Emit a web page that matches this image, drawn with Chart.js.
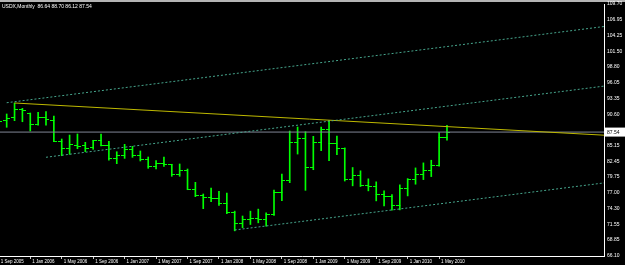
<!DOCTYPE html>
<html>
<head>
<meta charset="utf-8">
<script src="https://cdn.jsdelivr.net/npm/chart.js@4.4.0/dist/chart.umd.min.js"></script>
<style>
  html, body { margin: 0; padding: 0; background: #000; }
  canvas { display: block; }
</style>
</head>
<body>
<canvas id="usdxChart" width="625" height="265"></canvas>
<script>
const symbol = "USDX,Monthly";

const months = [
  "Sep 2005", "Oct 2005", "Nov 2005", "Dec 2005",
  "Jan 2006", "Feb 2006", "Mar 2006", "Apr 2006", "May 2006", "Jun 2006",
  "Jul 2006", "Aug 2006", "Sep 2006", "Oct 2006", "Nov 2006", "Dec 2006",
  "Jan 2007", "Feb 2007", "Mar 2007", "Apr 2007", "May 2007", "Jun 2007",
  "Jul 2007", "Aug 2007", "Sep 2007", "Oct 2007", "Nov 2007", "Dec 2007",
  "Jan 2008", "Feb 2008", "Mar 2008", "Apr 2008", "May 2008", "Jun 2008",
  "Jul 2008", "Aug 2008", "Sep 2008", "Oct 2008", "Nov 2008", "Dec 2008",
  "Jan 2009", "Feb 2009", "Mar 2009", "Apr 2009", "May 2009", "Jun 2009",
  "Jul 2009", "Aug 2009", "Sep 2009", "Oct 2009", "Nov 2009", "Dec 2009",
  "Jan 2010", "Feb 2010", "Mar 2010", "Apr 2010", "May 2010", "Jun 2010"
];

const opens = [
  87.10, 89.60, 90.10, 91.48,
  90.72, 88.77, 90.03, 89.58, 85.87, 84.73,
  85.30, 85.18, 84.84, 86.05, 85.30, 82.99,
  83.51, 84.56, 83.45, 82.88, 81.50, 82.19,
  81.85, 80.17, 80.81, 77.64, 76.53, 76.19,
  76.08, 75.22, 73.66, 71.73, 72.48, 72.65,
  72.33, 73.24, 77.17, 79.08, 85.77, 86.40,
  81.41, 85.77, 87.95, 85.48, 84.73, 79.30,
  80.10, 78.36, 78.19, 76.68, 76.33, 74.77,
  77.76, 79.38, 80.25, 80.82, 81.73, 86.64
];
const highs = [
  89.60, 90.67, 92.57, 91.65,
  90.84, 90.96, 91.07, 90.32, 86.34, 87.03,
  87.21, 85.77, 86.12, 87.21, 85.94, 84.14,
  85.42, 85.08, 84.27, 83.23, 82.59, 83.23,
  81.97, 82.02, 81.15, 78.85, 76.83, 77.87,
  77.29, 77.00, 73.86, 73.02, 73.86, 74.21,
  73.57, 77.52, 80.29, 87.72, 88.41, 87.60,
  86.81, 88.41, 89.57, 86.85, 84.80, 81.41,
  80.84, 79.45, 78.93, 77.36, 76.72, 78.41,
  79.49, 81.34, 82.21, 82.67, 87.45, 88.70
];
const lows = [
  86.80, 88.37, 89.51, 89.33,
  87.73, 88.72, 88.72, 85.87, 83.45, 83.69,
  84.66, 84.15, 84.56, 85.14, 82.66, 82.07,
  82.99, 83.17, 82.54, 81.27, 81.15, 81.62,
  79.89, 79.89, 77.57, 76.36, 74.29, 75.49,
  74.87, 73.42, 70.45, 70.99, 71.55, 71.84,
  71.27, 73.14, 75.67, 78.79, 83.74, 77.46,
  81.03, 84.32, 82.59, 83.62, 79.07, 78.24,
  78.12, 77.37, 75.64, 74.77, 74.02, 74.08,
  76.50, 78.52, 79.32, 79.84, 81.63, 86.12
];
const closes = [
  89.37, 89.92, 91.48, 91.31,
  88.89, 90.03, 89.68, 85.94, 84.73, 85.40,
  85.10, 84.78, 86.00, 85.30, 82.99, 83.51,
  84.56, 83.45, 82.88, 81.50, 82.19, 81.85,
  80.17, 80.81, 77.64, 76.53, 76.19, 76.01,
  75.22, 73.66, 71.73, 72.48, 72.65, 72.33,
  73.24, 77.17, 79.08, 85.77, 86.40, 81.41,
  85.77, 87.95, 85.48, 84.73, 79.30, 80.10,
  78.36, 78.19, 76.68, 76.33, 74.77, 77.76,
  79.38, 80.25, 80.82, 81.73, 86.58, 87.54
];

const xTickLabels = [
  "1 Sep 2005", "1 Jan 2006", "1 May 2006", "1 Sep 2006", "1 Jan 2007",
  "1 May 2007", "1 Sep 2007", "1 Jan 2008", "1 May 2008", "1 Sep 2008",
  "1 Jan 2009", "1 May 2009", "1 Sep 2009", "1 Jan 2010", "1 May 2010"
];
const yTicks = [
  109.70, 106.95, 104.25, 101.50, 98.80, 96.05, 93.35, 90.60,
  85.15, 82.45, 79.75, 77.00, 74.30, 71.55, 68.85, 66.10
];

// trend lines: [month index, price] at each end
const resistanceLine = [[2, 92.57], [77, 87.00]];
const channelTop = [[1, 92.62], [77, 105.81]];
const channelMid = [[6, 83.18], [77, 95.50]];
const channelLow = [[30, 70.60], [77, 78.75]];

const lastPrice = closes[closes.length - 1];

const barColor = "#00ff00";
const fontFamily = "'Liberation Sans', Arial, sans-serif";

function tickImage(side) {
  const c = document.createElement("canvas");
  c.width = 7;
  c.height = 1;
  const g = c.getContext("2d");
  g.fillStyle = barColor;
  g.fillRect(side === "left" ? 0 : 3, 0, 4, 1);
  return c;
}

function lineSet(points, color, dash) {
  return {
    type: "line",
    data: points.map(p => ({ x: p[0], y: p[1] })),
    borderColor: color,
    borderWidth: 1,
    borderDash: dash || [],
    pointRadius: 0,
    fill: false,
    order: 0
  };
}

const overlay = {
  id: "overlay",
  beforeDraw(chart) {
    const { ctx, width, height } = chart;
    ctx.save();
    ctx.fillStyle = "#000";
    ctx.fillRect(0, 0, width, height);
    ctx.fillStyle = "#b4b4b4";
    ctx.fillRect(0, 0, width, 2);
    ctx.restore();
  },
  afterDraw(chart) {
    const { ctx, chartArea, width } = chart;
    const n = closes.length - 1;
    const y = chart.scales.y.getPixelForValue(lastPrice);
    ctx.save();
    ctx.font = "5px " + fontFamily;
    ctx.textBaseline = "middle";
    ctx.fillStyle = "#fff";
    const head = [opens[n], highs[n], lows[n], closes[n]].map(v => v.toFixed(2)).join(" ");
    ctx.fillText(symbol + "  " + head, chartArea.left + 2, chartArea.top + 2.5);
    ctx.fillRect(chartArea.right + 1, y - 4.5, width - chartArea.right - 1, 9);
    ctx.fillStyle = "#000";
    ctx.fillText(lastPrice.toFixed(2), chartArea.right + 3, y + 0.5);
    ctx.restore();
  }
};

const ctx = document.getElementById("usdxChart").getContext("2d");
const chart = new Chart(ctx, {
  type: "bar",
  data: {
    datasets: [
      lineSet(channelTop, "rgb(70,165,140)", [2, 2]),
      lineSet(channelMid, "rgb(70,165,140)", [2, 2]),
      lineSet(channelLow, "rgb(70,165,140)", [2, 2]),
      lineSet(resistanceLine, "rgb(190,185,0)"),
      lineSet([[-5, lastPrice], [80, lastPrice]], "rgb(128,134,150)"),
      {
        type: "scatter",
        data: opens.map((v, i) => ({ x: i, y: v })),
        pointStyle: tickImage("left"),
        pointRadius: 3,
        order: 1
      },
      {
        type: "scatter",
        data: closes.map((v, i) => ({ x: i, y: v })),
        pointStyle: tickImage("right"),
        pointRadius: 3,
        order: 1
      },
      {
        type: "bar",
        data: months.map((m, i) => ({ x: i, y: [lows[i], highs[i]] })),
        backgroundColor: barColor,
        barThickness: 1,
        grouped: false,
        order: 2
      }
    ]
  },
  options: {
    responsive: false,
    devicePixelRatio: 1,
    animation: false,
    events: [],
    layout: { autoPadding: false, padding: { top: 4, left: 0, right: 0, bottom: 0 } },
    plugins: { legend: { display: false }, tooltip: { enabled: false } },
    scales: {
      x: {
        type: "linear",
        position: "bottom",
        offset: false,
        min: 0.15,
        max: 76.97,
        afterBuildTicks: s => { s.ticks = xTickLabels.map(l => ({ value: months.indexOf(l.slice(2)) })); },
        afterFit: s => { s.height = 9; s.paddingLeft = 0; s.paddingRight = 0; },
        ticks: {
          autoSkip: false,
          maxRotation: 0,
          align: "start",
          labelOffset: 2,
          padding: 0,
          color: "#fff",
          font: { family: fontFamily, size: 4.5 },
          callback: (v, i) => xTickLabels[i]
        },
        grid: { offset: false, drawOnChartArea: false, tickLength: 3, color: "#c8c8c8" },
        border: { display: true, color: "#fff", width: 1 }
      },
      y: {
        position: "right",
        min: 66.10,
        max: 109.70,
        afterBuildTicks: s => { s.ticks = yTicks.map(v => ({ value: v })); },
        afterFit: s => { s.width = 21; s.paddingTop = 0; s.paddingBottom = 0; },
        ticks: {
          autoSkip: false,
          padding: 3,
          color: "#fff",
          font: { family: fontFamily, size: 5 },
          callback: v => v.toFixed(2)
        },
        grid: { display: false, drawTicks: false },
        border: { display: true, color: "#fff", width: 1 }
      }
    }
  },
  plugins: [overlay]
});
</script>
</body>
</html>
